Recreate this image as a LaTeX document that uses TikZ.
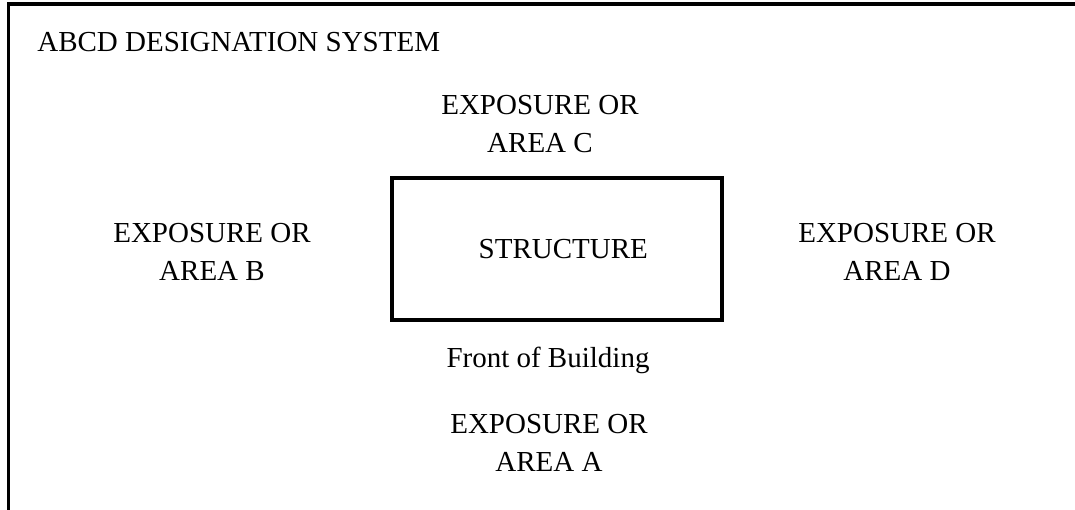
\documentclass[tikz,border=0pt]{standalone}
\usepackage{fontspec}
\setmainfont{Liberation Serif}
\usetikzlibrary{positioning}

\begin{document}
\begin{tikzpicture}[
labelnode/.style={align=center, font=\fontsize{16.5}{22}\selectfont, inner sep=0pt},
housenode/.style={rectangle, draw=black, line width=2pt, minimum width=6.6cm, minimum height=2.84cm, font=\fontsize{16.5}{22}\selectfont},
]
\useasboundingbox (0,0) rectangle (21.5,10.2);

%Frame
\coordinate (fbot) at (0.17,0);
\coordinate (fcorner) at (0.17,10.12);
\coordinate (fright) at (21.5,10.12);
\draw[line width=1.8pt] (fbot) -- (fcorner) -- (fright);

%Nodes
\node[labelnode, anchor=west](title) at (0.74,9.36){ABCD DESIGNATION SYSTEM};

\node[housenode](house) at (11.14,5.22){\hspace{0.25cm}STRUCTURE};

\node[labelnode](areac) at (10.8,7.72){EXPOSURE OR\\AREA C};

\node[labelnode](areab) at (4.24,5.16){EXPOSURE OR\\AREA B};

\node[labelnode](aread) at (17.94,5.16){EXPOSURE OR\\AREA D};

\node[labelnode](front) at (10.96,3.0){Front of Building};

\node[labelnode](areaa) at (10.98,1.34){EXPOSURE OR\\AREA A};

\end{tikzpicture}
\end{document}
